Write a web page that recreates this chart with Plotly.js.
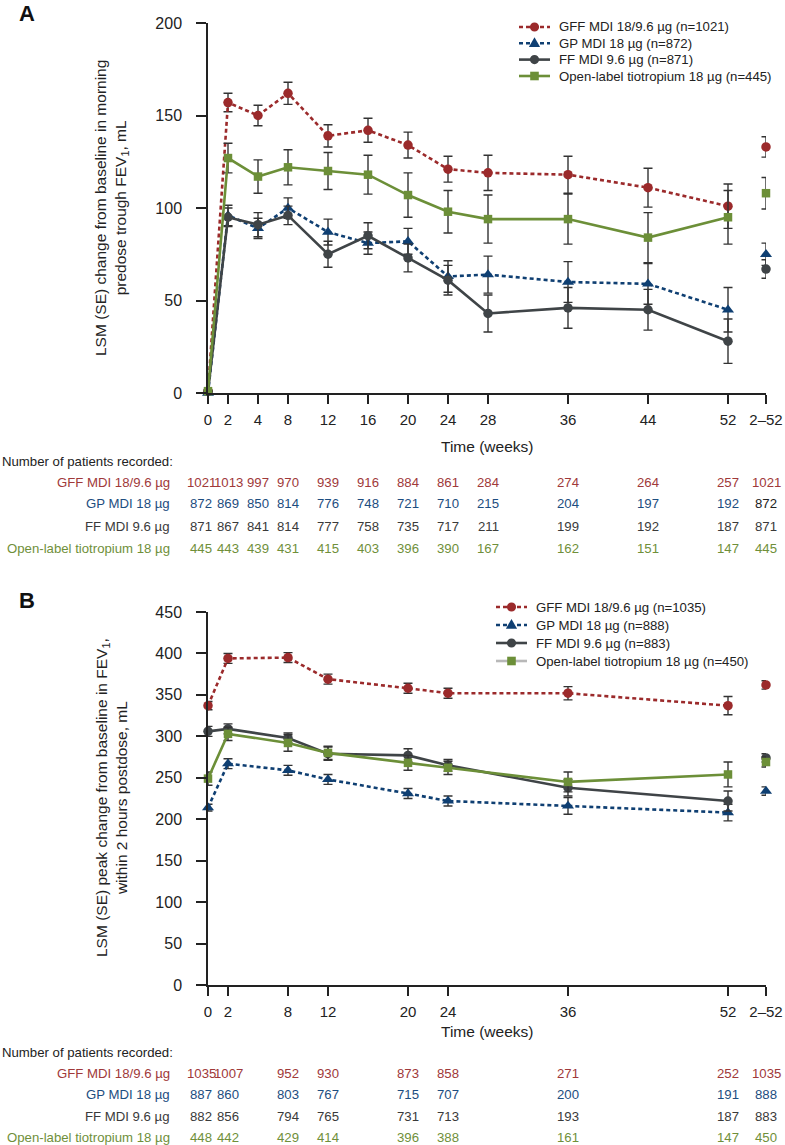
<!DOCTYPE html>
<html>
<head>
<meta charset="utf-8">
<script src="https://cdn.plot.ly/plotly-3.0.1.min.js"></script>
<style>
  html, body { margin: 0; padding: 0; background: #ffffff; }
  #chart { width: 785px; height: 1145px; }
</style>
</head>
<body>
<div id="chart"></div>
<script>
// ---------------- DATA ----------------
// Panel A: morning predose trough FEV1 (LSM change from baseline, mL)
const visitsA = ['0', '2', '4', '8', '12', '16', '20', '24', '28', '36', '44', '52', '2–52'];
const gffA    = [1, 157, 150, 162, 139, 142, 134, 121, 119, 118, 111, 101, 133];
const gffA_se = [0, 5, 5.5, 6, 6, 6.5, 7, 7, 9.5, 10, 10.5, 12, 5.5];
const gpA     = [0, 96, 89, 100, 87, 81, 82, 63, 64, 60, 59, 45, 75];
const gpA_se  = [0, 5.5, 5.5, 5.5, 7, 6, 7, 8.5, 10, 11, 11, 12, 6];
const ffA     = [1, 95, 91, 96, 75, 85, 73, 61, 43, 46, 45, 28, 67];
const ffA_se  = [0, 5, 6.5, 5, 7, 7, 7.5, 8, 10, 11, 11, 12, 5];
const tioA    = [1, 127, 117, 122, 120, 118, 107, 98, 94, 94, 84, 95, 108];
const tioA_se = [0, 8, 9, 9.5, 10, 10.5, 12, 11.5, 13, 13.5, 13.5, 14.5, 8.5];

const nA_gff = [1021, 1013, 997, 970, 939, 916, 884, 861, 284, 274, 264, 257, 1021];
const nA_gp  = [872, 869, 850, 814, 776, 748, 721, 710, 215, 204, 197, 192, 872];
const nA_ff  = [871, 867, 841, 814, 777, 758, 735, 717, 211, 199, 192, 187, 871];
const nA_tio = [445, 443, 439, 431, 415, 403, 396, 390, 167, 162, 151, 147, 445];

// Panel B: peak FEV1 within 2 hours postdose (LSM change from baseline, mL)
const visitsB = ['0', '2', '8', '12', '20', '24', '36', '52', '2–52'];
const gffB    = [337, 394, 395, 369, 358, 352, 352, 337, 362];
const gffB_se = [5, 6, 6, 6, 6, 6, 8, 11, 5];
const gpB     = [214, 267, 259, 248, 231, 222, 216, 208, 234];
const gpB_se  = [4, 6, 6, 6, 6, 6, 10, 10, 5];
const ffB     = [306, 309, 298, 279, 277, 265, 238, 222, 274];
const ffB_se  = [6, 6, 6, 8, 8, 7, 10, 12, 5];
const tioB    = [249, 303, 292, 280, 268, 262, 245, 254, 269];
const tioB_se = [8, 8, 10, 8, 9, 8, 12, 15, 6];

const nB_gff = [1035, 1007, 952, 930, 873, 858, 271, 252, 1035];
const nB_gp  = [887, 860, 803, 767, 715, 707, 200, 191, 888];
const nB_ff  = [882, 856, 794, 765, 731, 713, 193, 187, 883];
const nB_tio = [448, 442, 429, 414, 396, 388, 161, 147, 450];

const seriesNamesA = ['GFF MDI 18/9.6 µg (n=1021)', 'GP MDI 18 µg (n=872)', 'FF MDI 9.6 µg (n=871)', 'Open-label tiotropium 18 µg (n=445)'];
const seriesNamesB = ['GFF MDI 18/9.6 µg (n=1035)', 'GP MDI 18 µg (n=888)', 'FF MDI 9.6 µg (n=883)', 'Open-label tiotropium 18 µg (n=450)'];
const rowLabels = ['GFF MDI 18/9.6 µg', 'GP MDI 18 µg', 'FF MDI 9.6 µg', 'Open-label tiotropium 18 µg'];

// ---------------- LAYOUT HELPERS ----------------
// axis slot used for each visit column (visit axis is not strictly linear in the source figure)
const slotOf = {'0': 0, '2': 2, '4': 5, '8': 8, '12': 12, '16': 16, '20': 20, '24': 24, '28': 28, '36': 36, '44': 44, '52': 52, '2–52': 55.8};
const W = 785, H = 1145;
const px = v => v / W;
const py = v => 1 - v / H;
const fontFam = 'Liberation Sans, Arial, sans-serif';

const lineColors = ['#9b2a2b', '#0f3f72', '#3f4447', '#6c8f38'];
const textColors = ['#a0393a', '#1d4d80', '#3a3a3a', '#6f8f3a'];
const dashes = ['4px,3px', '4px,3px', 'solid', 'solid'];
const symbols = ['circle', 'triangle-up', 'circle', 'square'];
const msizes = [9.5, 10.5, 9.5, 8.5];
const ERR = '#333333';

function buildTraces(visits, vals, ses, names, xa, ya) {
  const xs = visits.map(v => slotOf[v]);
  const n = visits.length;
  const out = [];
  vals.forEach((arr, i) => {
    out.push({
      type: 'scatter', mode: 'lines+markers', name: names[i],
      x: xs.slice(0, n - 1), y: arr.slice(0, n - 1),
      xaxis: xa, yaxis: ya, cliponaxis: false, showlegend: false,
      line: {color: lineColors[i], width: 2.6, dash: dashes[i]},
      marker: {symbol: symbols[i], size: msizes[i], color: lineColors[i]},
      error_y: {type: 'data', array: ses[i].slice(0, n - 1), visible: true, color: ERR, thickness: 1.4, width: 4.5}
    });
    out.push({
      type: 'scatter', mode: 'markers', name: names[i],
      x: [xs[n - 1]], y: [arr[n - 1]],
      xaxis: xa, yaxis: ya, cliponaxis: false, showlegend: false,
      marker: {symbol: symbols[i], size: msizes[i], color: lineColors[i]},
      error_y: {type: 'data', array: [ses[i][n - 1]], visible: true, color: ERR, thickness: 1.4, width: 4.5}
    });
  });
  return out;
}

const tracesA = buildTraces(visitsA, [gffA, gpA, ffA, tioA], [gffA_se, gpA_se, ffA_se, tioA_se], seriesNamesA, 'x', 'y');
const tracesB = buildTraces(visitsB, [gffB, gpB, ffB, tioB], [gffB_se, gpB_se, ffB_se, tioB_se], seriesNamesB, 'x2', 'y2');

// ---------------- ANNOTATIONS ----------------
const ann = [];
const shapes = [];
function panelText(letter, yPix) {
  ann.push({text: '<b>' + letter + '</b>', xref: 'paper', yref: 'paper', x: px(17), y: py(yPix),
    xanchor: 'left', yanchor: 'middle', showarrow: false, font: {size: 22, color: '#111', family: fontFam}});
}
panelText('A', 14);
panelText('B', 600);

function yTitle(text, yCenterPix) {
  ann.push({text: text, textangle: -90, xref: 'paper', yref: 'paper', x: px(111), y: py(yCenterPix),
    xanchor: 'center', yanchor: 'middle', showarrow: false, align: 'center',
    font: {size: 15.5, color: '#222', family: fontFam}});
}
yTitle('LSM (SE) change from baseline in morning<br>predose trough FEV<sub>1</sub>, mL', 208);
yTitle('LSM (SE) peak change from baseline in FEV<sub>1</sub>,<br>within 2 hours postdose, mL', 798);

function xTitle(yPix) {
  ann.push({text: 'Time (weeks)', xref: 'paper', yref: 'paper', x: px(487), y: py(yPix),
    xanchor: 'center', yanchor: 'middle', showarrow: false, font: {size: 15.5, color: '#222', family: fontFam}});
}
xTitle(446);
xTitle(1031);

function table(visits, counts, xref, headerY, rowYs) {
  ann.push({text: 'Number of patients recorded:', xref: 'paper', yref: 'paper', x: 0, y: py(headerY),
    xanchor: 'left', yanchor: 'middle', showarrow: false, font: {size: 13.2, color: '#222', family: fontFam}});
  counts.forEach((row, r) => {
    ann.push({text: rowLabels[r], xref: 'paper', yref: 'paper', x: px(172), y: py(rowYs[r]),
      xanchor: 'right', yanchor: 'middle', showarrow: false, font: {size: 13.2, color: textColors[r], family: fontFam}});
    row.forEach((v, c) => {
      ann.push({text: String(v), xref: xref, yref: 'paper', x: slotOf[visits[c]], y: py(rowYs[r]),
        xanchor: 'center', yanchor: 'middle', showarrow: false, xshift: c === 0 ? -7 : 0,
        font: {size: 13.2, color: textColors[r], family: fontFam}});
    });
  });
}
table(visitsA, [nA_gff, nA_gp, nA_ff, nA_tio], 'x', 462, [482, 504, 526, 548]);
table(visitsB, [nB_gff, nB_gp, nB_ff, nB_tio], 'x2', 1052, [1073, 1094, 1116, 1137]);
// the overall GP count in panel A is printed in dark grey in the source
ann.forEach(a => { if (a.xref === 'x' && a.text === '872' && a.x === slotOf['2–52']) a.font.color = '#222'; });

// ---------------- LEGENDS (drawn as keys + labels) ----------------
function legendBlock(names, lineStart, rowYs, keyLineColors) {
  names.forEach((nm, i) => {
    const yc = py(rowYs[i]);
    const xc = px(lineStart + 15.5);
    shapes.push({type: 'line', xref: 'paper', yref: 'paper', x0: px(lineStart), x1: px(lineStart + 31), y0: yc, y1: yc,
      line: {color: keyLineColors[i], width: 2.6, dash: dashes[i]}, layer: 'above'});
    const common = {xref: 'paper', yref: 'paper', xsizemode: 'pixel', ysizemode: 'pixel', xanchor: xc, yanchor: yc,
      fillcolor: lineColors[i], line: {width: 0}, layer: 'above'};
    if (symbols[i] === 'circle') {
      shapes.push(Object.assign({type: 'circle', x0: -4.6, x1: 4.6, y0: -4.6, y1: 4.6}, common));
    } else if (symbols[i] === 'square') {
      shapes.push(Object.assign({type: 'rect', x0: -4.3, x1: 4.3, y0: -4.3, y1: 4.3}, common));
    } else {
      shapes.push(Object.assign({type: 'path', path: 'M -5.6,-3.8 L 5.6,-3.8 L 0,6 Z'}, common));
    }
    ann.push({text: nm, xref: 'paper', yref: 'paper', x: px(lineStart + 38), y: yc,
      xanchor: 'left', yanchor: 'middle', showarrow: false, font: {size: 13.2, color: '#222', family: fontFam}});
  });
}
legendBlock(seriesNamesA, 519, [27, 43.3, 59.6, 76], lineColors);
legendBlock(seriesNamesB, 496, [607, 625, 643, 661], [lineColors[0], lineColors[1], lineColors[2], '#b8b8b8']);

// ---------------- AXES ----------------
function xAxis(visits, domainAnchor) {
  return {
    domain: [px(208), px(766)], range: [0, 55.8], anchor: domainAnchor,
    tickmode: 'array', tickvals: visits.map(v => slotOf[v]), ticktext: visits,
    ticks: 'outside', ticklen: 9, tickwidth: 1.5, tickcolor: '#222',
    showline: true, linecolor: '#222', linewidth: 1.5, showgrid: false, zeroline: false,
    tickfont: {size: 15, color: '#222', family: fontFam}, ticklabelstandoff: 3, fixedrange: true
  };
}
function yAxis(range, dtick, top, bottom, xa) {
  return {
    domain: [py(bottom), py(top)], range: range, anchor: xa,
    tickmode: 'linear', tick0: 0, dtick: dtick,
    ticks: 'outside', ticklen: 10, tickwidth: 1.5, tickcolor: '#222',
    showline: true, linecolor: '#222', linewidth: 1.5, showgrid: false, zeroline: false,
    tickfont: {size: 16, color: '#222', family: fontFam}, ticklabelstandoff: 11, fixedrange: true
  };
}

const layout = {
  width: W, height: H,
  margin: {l: 0, r: 0, t: 0, b: 0},
  paper_bgcolor: '#ffffff', plot_bgcolor: '#ffffff',
  font: {family: fontFam, color: '#222'},
  xaxis: xAxis(visitsA, 'y'),
  yaxis: yAxis([0, 200], 50, 23, 393, 'x'),
  xaxis2: xAxis(visitsB, 'y2'),
  yaxis2: yAxis([0, 450], 50, 612, 985, 'x2'),
  annotations: ann,
  shapes: shapes,
  showlegend: false
};

Plotly.newPlot('chart', tracesA.concat(tracesB), layout, {displayModeBar: false, responsive: false});
</script>
</body>
</html>
